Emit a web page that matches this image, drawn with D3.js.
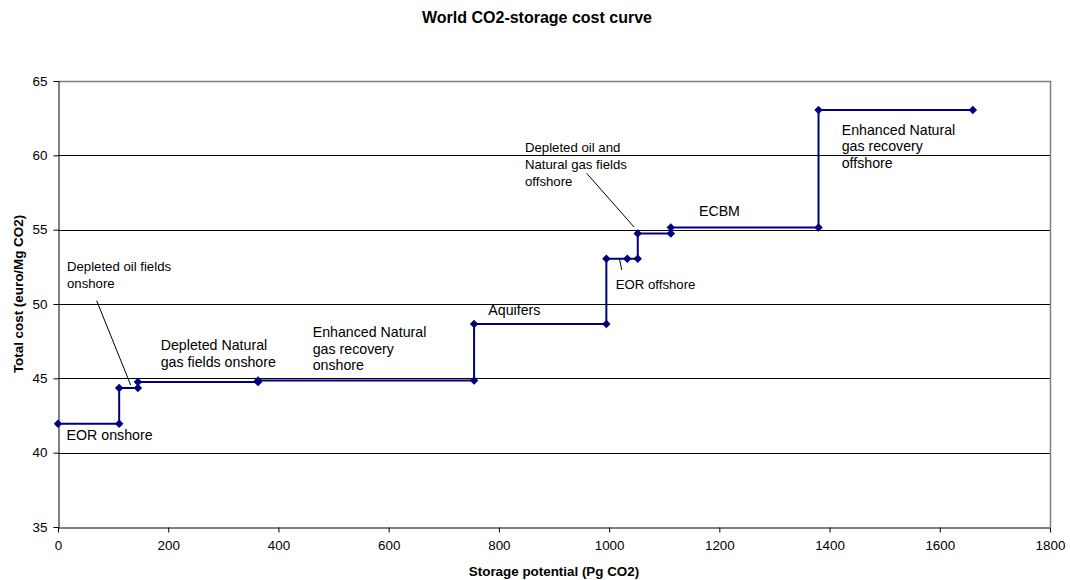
<!DOCTYPE html>
<html>
<head>
<meta charset="utf-8">
<script src="https://cdn.jsdelivr.net/npm/d3@7"></script>
<style>
	body { margin: 0; background: #fff; }
	text { font-family: "Liberation Sans", Arial, sans-serif; fill: #000; }
</style>
</head>
<body>
<div id="container"></div>
<script>

// ==============
//	DATA
// ==============

// storage potential (Pg CO2), cumulative
var storage = [0, 111, 111, 145, 145, 363, 363, 755, 755, 995, 995, 1033, 1052, 1052, 1112, 1112, 1380, 1380, 1660];
// total cost (euro/Mg CO2)
var cost = [41.95, 41.95, 44.35, 44.35, 44.75, 44.75, 44.85, 44.85, 48.65, 48.65, 53.05, 53.05, 53.05, 54.75, 54.75, 55.15, 55.15, 63.05, 63.05];

var xTicks = [0, 200, 400, 600, 800, 1000, 1200, 1400, 1600, 1800];
var yTicks = [35, 40, 45, 50, 55, 60, 65];

// labels, anchored in data units (left edge, first baseline)
var labelText = [
	["EOR onshore"],
	["Depleted Natural", "gas fields onshore"],
	["Enhanced Natural", "gas recovery", "onshore"],
	["Aquifers"],
	["ECBM"],
	["Enhanced Natural", "gas recovery", "offshore"]
];
var labelX = [15.6, 186.4, 462.2, 780.8, 1163, 1422];
var labelY = [40.85, 46.9, 47.8, 49.26, 55.9, 61.4];

// callouts with a leader line
var calloutText = [
	["Depleted oil fields", "onshore"],
	["Depleted oil and", "Natural gas fields", "offshore"],
	["EOR offshore"]
];
var calloutX = [16.3, 847.4, 1012];
var calloutY = [52.24, 60.2, 51.0];
var leaderFrom = [[70.2, 50.22], [959.3, 58.79], [1018.5, 53.1]];
var leaderTo = [[131.9, 44.55], [1045.2, 55.18], [1022.9, 52.29]];

// ==============
//	OPTIONS
// ==============

var W = 1070, H = 580,
	plot = {left: 58, right: 1050, top: 81, bottom: 527},
	colLine = "#000080";

var svg = d3.select("#container").append("svg")
	.attr("width", W)
	.attr("height", H);

var x = d3.scaleLinear().domain([0, 1800]).range([plot.left, plot.right]);
var y = d3.scaleLinear().domain([35, 65]).range([plot.bottom, plot.top]);

// === gridlines
svg.append("g")
	.selectAll("line")
		.data(yTicks.filter(d => d > 35 && d < 65))
		.join("line")
		.attr("x1", plot.left)
		.attr("x2", plot.right)
		.attr("y1", d => Math.round(y(d)) + 0.5)
		.attr("y2", d => Math.round(y(d)) + 0.5)
		.attr("stroke", "#000")
		.attr("stroke-width", 1);

// plot area border (top, right)
svg.append("path")
	.attr("d", "M" + plot.left + "," + (plot.top + 0.5) + "H" + (plot.right + 0.5) + "V" + plot.bottom)
	.attr("fill", "none")
	.attr("stroke", "#808080")
	.attr("stroke-width", 1.5);

// === axes
var xAxis = svg.append("g")
	.attr("transform", "translate(0," + (plot.bottom + 0.5) + ")")
	.call(d3.axisBottom(x).tickValues(xTicks).tickFormat(d3.format("d"))
		.tickSize(5).tickSizeOuter(0).tickPadding(8));

var yAxis = svg.append("g")
	.attr("transform", "translate(" + (plot.left + 0.5) + ",0)")
	.call(d3.axisLeft(y).tickValues(yTicks).tickSize(5).tickSizeOuter(0).tickPadding(6));

[xAxis, yAxis].forEach(function(ax) {
	ax.select(".domain").attr("stroke", "#000");
	ax.selectAll(".tick line").attr("stroke", "#000");
	ax.selectAll(".tick text")
		.style("font-family", "'Liberation Sans', Arial, sans-serif")
		.style("font-size", "13.4px")
		.attr("fill", "#000");
});

// === step curve
var pts = storage.map((d, i) => [d, cost[i]]);

svg.append("path")
	.datum(pts)
	.attr("d", d3.line().x(d => x(d[0])).y(d => y(d[1])))
	.attr("fill", "none")
	.attr("stroke", colLine)
	.attr("stroke-width", 2);

svg.append("g")
	.selectAll("path")
		.data(pts)
		.join("path")
		.attr("d", d3.symbol().type(d3.symbolSquare).size(36)())
		.attr("transform", d => "translate(" + x(d[0]) + "," + y(d[1]) + ") rotate(45)")
		.attr("fill", colLine);

// === labels
function multiline(g, lines, px, py, size, lh) {
	var t = g.append("text")
		.attr("x", px)
		.attr("y", py)
		.style("font-size", size + "px");
	lines.forEach(function(s, i) {
		t.append("tspan")
			.attr("x", px)
			.attr("y", py + i * lh)
			.text(s);
	});
}

var lab = svg.append("g");
labelText.forEach(function(lines, i) {
	multiline(lab, lines, x(labelX[i]), y(labelY[i]), 14.2, 16.8);
});

calloutText.forEach(function(lines, i) {
	multiline(lab, lines, x(calloutX[i]), y(calloutY[i]), 13.2, 17);
	lab.append("line")
		.attr("x1", x(leaderFrom[i][0]))
		.attr("y1", y(leaderFrom[i][1]))
		.attr("x2", x(leaderTo[i][0]))
		.attr("y2", y(leaderTo[i][1]))
		.attr("stroke", "#000")
		.attr("stroke-width", 1);
});

// === titles
svg.append("text")
	.attr("x", 537)
	.attr("y", 23)
	.attr("text-anchor", "middle")
	.style("font-size", "16px")
	.style("font-weight", "bold")
	.text("World CO2-storage cost curve");

svg.append("text")
	.attr("x", (plot.left + plot.right) / 2)
	.attr("y", 576)
	.attr("text-anchor", "middle")
	.style("font-size", "13.4px")
	.style("font-weight", "bold")
	.text("Storage potential (Pg CO2)");

svg.append("text")
	.attr("transform", "translate(23," + 294 + ") rotate(-90)")
	.attr("text-anchor", "middle")
	.style("font-size", "13.4px")
	.style("font-weight", "bold")
	.text("Total cost (euro/Mg CO2)");

</script>
</body>
</html>
